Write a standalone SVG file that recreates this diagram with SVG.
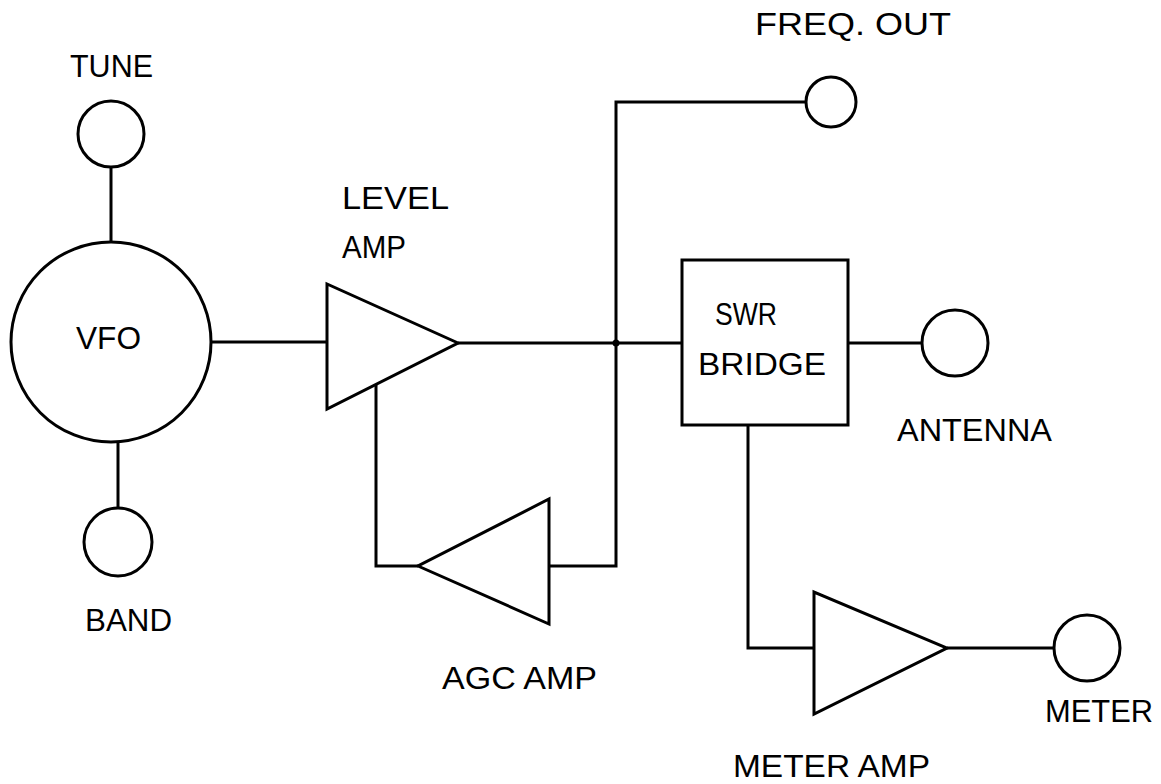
<svg xmlns="http://www.w3.org/2000/svg" width="1161" height="784" viewBox="0 0 1161 784">
<style>
.s{fill:none;stroke:#000;stroke-width:3;stroke-linejoin:miter}
.w{fill:#fff;stroke:#000;stroke-width:3}
.t{font-family:"Liberation Sans",Arial,sans-serif;font-size:31px;fill:#000}
</style>
<rect width="1161" height="784" fill="#fff"/>
<g id="connectors">
<line class="s" x1="111" y1="168" x2="111" y2="242"/>
<line class="s" x1="118" y1="441" x2="118" y2="508"/>
<line class="s" x1="211" y1="342" x2="327" y2="342"/>
<line class="s" x1="458" y1="343" x2="682" y2="343"/>
<polyline class="s" points="806,102 616,102 616,566 549,566"/>
<polyline class="s" points="418,566 376,566 376,384"/>
<line class="s" x1="848" y1="343" x2="922" y2="343"/>
<polyline class="s" points="748,425 748,648 814,648"/>
<line class="s" x1="947" y1="648" x2="1054" y2="648"/>
<circle cx="616" cy="343" r="3.5" fill="#000"/>
</g>
<g id="tune">
<circle class="w" cx="111" cy="134" r="33"/>
<text class="t" x="70" y="77" textLength="83" lengthAdjust="spacingAndGlyphs">TUNE</text>
</g>
<g id="vfo">
<circle class="w" cx="111" cy="342" r="100"/>
<text class="t" x="76" y="349" textLength="65" lengthAdjust="spacingAndGlyphs">VFO</text>
</g>
<g id="band">
<circle class="w" cx="118" cy="542" r="34"/>
<text class="t" x="85" y="631" textLength="87" lengthAdjust="spacingAndGlyphs">BAND</text>
</g>
<g id="level-amp">
<polygon class="w" points="327,284 327,409 458,343"/>
<text class="t" x="342" y="209" textLength="107" lengthAdjust="spacingAndGlyphs">LEVEL</text>
<text class="t" x="342" y="258" textLength="64" lengthAdjust="spacingAndGlyphs">AMP</text>
</g>
<g id="agc-amp">
<polygon class="w" points="549,499 549,624 418,566"/>
<text class="t" x="442" y="689" textLength="155" lengthAdjust="spacingAndGlyphs">AGC AMP</text>
</g>
<g id="freq-out">
<circle class="w" cx="831" cy="102" r="25"/>
<text class="t" x="755" y="35" textLength="196" lengthAdjust="spacingAndGlyphs">FREQ. OUT</text>
</g>
<g id="swr-bridge">
<rect class="w" x="682" y="260" width="166" height="165"/>
<text class="t" x="715" y="325" textLength="62" lengthAdjust="spacingAndGlyphs">SWR</text>
<text class="t" x="698" y="375" textLength="128" lengthAdjust="spacingAndGlyphs">BRIDGE</text>
</g>
<g id="antenna">
<circle class="w" cx="955" cy="343" r="33"/>
<text class="t" x="897" y="441" textLength="155" lengthAdjust="spacingAndGlyphs">ANTENNA</text>
</g>
<g id="meter-amp">
<polygon class="w" points="814,592 814,714 947,648"/>
<text class="t" x="733" y="777" textLength="197" lengthAdjust="spacingAndGlyphs">METER AMP</text>
</g>
<g id="meter">
<circle class="w" cx="1087" cy="648" r="33"/>
<text class="t" x="1045" y="722" textLength="108" lengthAdjust="spacingAndGlyphs">METER</text>
</g>
</svg>
